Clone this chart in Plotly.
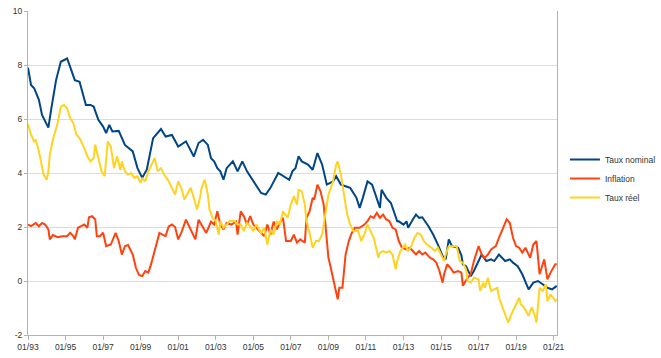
import plotly.graph_objects as go

# ---- data (monthly dates, %)
nominal_dates = ["1993-01","1993-03","1993-05","1993-08","1993-10","1993-12","1994-02","1994-04","1994-07","1994-10",
    "1994-12","1995-02","1995-04","1995-07","1995-10","1996-02","1996-05","1996-07","1996-10","1997-01",
    "1997-03","1997-05","1997-07","1997-11","1998-03","1998-08","1998-11","1999-02","1999-05","1999-09",
    "2000-02","2000-05","2000-09","2001-01","2001-06","2001-11","2002-02","2002-05","2002-08","2002-10",
    "2002-12","2003-02","2003-04","2003-06","2003-08","2003-12","2004-03","2004-06","2004-09","2005-01",
    "2005-06","2005-09","2005-12","2006-05","2006-10","2006-12","2007-02","2007-04","2007-06","2007-08",
    "2007-12","2008-03","2008-06","2008-09","2008-12","2009-04","2009-06","2009-09","2009-12","2010-03",
    "2010-07","2010-09","2010-11","2011-02","2011-05","2011-08","2011-10","2011-11","2012-02","2012-05",
    "2012-07","2012-09","2012-10","2013-01","2013-03","2013-04","2013-07","2013-09","2013-11","2014-01",
    "2014-05","2014-08","2014-11","2015-02","2015-04","2015-06","2015-08","2015-12","2016-02","2016-03",
    "2016-05","2016-08","2016-10","2017-01","2017-03","2017-06","2017-09","2017-11","2018-02","2018-06",
    "2018-09","2018-11","2019-02","2019-05","2019-09","2019-12","2020-03","2020-06","2020-09","2020-12","2021-03"]
nominal_values = [7.90,7.26,7.14,6.71,6.15,5.90,5.68,6.40,7.44,8.12,
    8.18,8.24,7.93,7.44,7.38,6.52,6.52,6.46,5.97,5.72,
    5.48,5.78,5.54,5.56,5.04,4.80,4.18,3.82,4.12,5.29,
    5.63,5.35,5.41,4.98,5.17,4.61,5.11,5.23,5.04,4.55,
    4.43,4.18,4.06,3.75,4.18,4.43,4.06,4.43,4.06,3.69,
    3.26,3.20,3.45,4.00,3.82,3.75,4.06,4.18,4.62,4.43,
    4.31,4.12,4.74,4.31,3.57,3.69,3.88,3.57,3.51,3.45,
    3.08,2.71,3.08,3.69,3.57,3.08,2.71,3.38,3.08,2.89,
    2.58,2.21,2.21,2.09,2.21,1.97,2.28,2.46,2.34,2.36,
    2.03,1.72,1.35,0.92,0.80,1.54,1.29,1.23,0.95,0.62,
    0.55,0.18,0.37,0.74,0.98,0.74,0.80,0.74,0.98,0.74,
    0.80,0.68,0.55,0.25,-0.31,-0.06,0.00,-0.12,-0.25,-0.31,-0.18]

inflation_dates = ["1993-01","1993-03","1993-06","1993-08","1993-10","1993-12","1994-02","1994-03","1994-05","1994-08",
    "1994-11","1995-02","1995-04","1995-06","1995-07","1995-09","1995-11","1996-01","1996-03","1996-04",
    "1996-06","1996-08","1996-09","1996-11","1997-01","1997-03","1997-06","1997-09","1997-11","1998-01",
    "1998-03","1998-05","1998-08","1998-10","1998-12","1999-02","1999-04","1999-06","1999-08","1999-10",
    "2000-01","2000-03","2000-05","2000-07","2000-09","2000-11","2001-01","2001-03","2001-06","2001-08",
    "2001-10","2001-12","2002-02","2002-04","2002-07","2002-10","2002-12","2003-02","2003-04","2003-06",
    "2003-08","2003-11","2004-02","2004-03","2004-05","2004-07","2004-09","2004-11","2005-01","2005-05",
    "2005-08","2005-10","2005-12","2006-02","2006-04","2006-06","2006-08","2006-10","2007-01","2007-03",
    "2007-05","2007-07","2007-10","2007-11","2008-01","2008-03","2008-04","2008-06","2008-08","2008-10",
    "2008-11","2009-01","2009-02","2009-05","2009-07","2009-08","2009-10","2009-12","2010-02","2010-04",
    "2010-06","2010-09","2010-12","2011-02","2011-04","2011-06","2011-08","2011-10","2011-12","2012-02",
    "2012-04","2012-06","2012-08","2012-10","2012-12","2013-03","2013-05","2013-07","2013-09","2013-11",
    "2014-01","2014-03","2014-06","2014-08","2014-10","2014-12","2015-02","2015-03","2015-05","2015-07",
    "2015-09","2015-12","2016-02","2016-03","2016-06","2016-08","2016-10","2017-01","2017-03","2017-05",
    "2017-07","2017-09","2017-12","2018-02","2018-05","2018-07","2018-09","2018-11","2019-01","2019-03",
    "2019-05","2019-07","2019-10","2019-12","2020-02","2020-03","2020-04","2020-06","2020-07","2020-09",
    "2020-11","2021-02","2021-03"]
inflation_values = [2.09,2.03,2.15,2.03,2.15,2.09,1.91,1.54,1.70,1.62,
    1.66,1.66,1.79,1.66,1.54,1.97,2.03,2.09,1.97,2.36,
    2.40,2.28,1.66,1.66,1.79,1.29,1.35,1.78,1.48,0.98,
    1.29,1.33,0.98,0.49,0.22,0.18,0.37,0.31,0.68,1.11,
    1.78,1.72,1.66,2.02,2.09,2.00,1.54,1.78,2.27,2.03,
    1.78,1.54,2.27,2.09,1.78,2.20,2.09,2.58,2.09,1.91,
    2.15,2.09,2.20,1.72,2.58,2.40,2.09,2.40,2.09,1.85,
    1.66,2.09,1.72,2.20,1.91,2.15,2.34,1.48,1.48,1.72,
    1.42,1.54,1.42,2.34,2.58,3.08,3.02,3.57,3.32,2.83,
    2.09,0.86,0.62,-0.12,-0.68,-0.25,-0.25,0.98,1.48,1.78,
    1.97,1.97,2.09,2.22,2.40,2.34,2.52,2.34,2.46,2.28,
    2.22,1.97,1.91,1.48,1.23,1.17,1.23,1.11,0.98,1.11,
    0.98,1.05,0.86,0.80,0.68,0.37,-0.06,0.25,0.62,0.49,
    0.31,0.37,0.31,-0.18,0.12,0.25,0.74,1.29,0.98,0.86,
    0.98,1.17,1.29,1.60,2.03,2.28,2.15,1.60,1.29,1.23,
    1.05,1.23,0.86,1.35,1.48,0.86,0.25,0.62,0.80,0.06,
    0.31,0.62,0.62]

real_dates = ["1993-01","1993-03","1993-05","1993-06","1993-08","1993-10","1993-11","1994-01","1994-02","1994-03",
    "1994-05","1994-08","1994-10","1994-12","1995-02","1995-04","1995-06","1995-08","1995-10","1996-01",
    "1996-03","1996-05","1996-07","1996-08","1996-10","1996-12","1997-02","1997-04","1997-06","1997-08",
    "1997-10","1997-12","1998-01","1998-03","1998-05","1998-07","1998-09","1998-11","1999-01","1999-02",
    "1999-04","1999-06","1999-08","1999-10","1999-12","2000-02","2000-04","2000-07","2000-09","2000-11",
    "2001-01","2001-03","2001-05","2001-07","2001-09","2001-11","2002-01","2002-03","2002-04","2002-06",
    "2002-08","2002-09","2002-11","2003-01","2003-03","2003-04","2003-06","2003-08","2003-10","2004-01",
    "2004-03","2004-05","2004-07","2004-09","2004-11","2005-01","2005-03","2005-06","2005-08","2005-10",
    "2005-12","2006-02","2006-04","2006-06","2006-08","2006-11","2007-01","2007-03","2007-05","2007-06",
    "2007-08","2007-10","2007-11","2008-01","2008-03","2008-05","2008-07","2008-09","2008-11","2009-01",
    "2009-04","2009-06","2009-07","2009-09","2009-11","2010-01","2010-03","2010-05","2010-08","2010-10",
    "2010-12","2011-02","2011-04","2011-06","2011-08","2011-09","2011-10","2011-12","2012-02","2012-04",
    "2012-06","2012-08","2012-09","2012-11","2013-02","2013-04","2013-06","2013-08","2013-10","2013-12",
    "2014-02","2014-04","2014-07","2014-09","2014-11","2015-01","2015-03","2015-04","2015-06","2015-08",
    "2015-11","2016-01","2016-03","2016-05","2016-06","2016-08","2016-10","2017-01","2017-02","2017-04",
    "2017-05","2017-07","2017-09","2017-11","2018-01","2018-02","2018-05","2018-07","2018-08","2018-10",
    "2019-01","2019-03","2019-04","2019-06","2019-09","2019-11","2020-01","2020-02","2020-04","2020-06",
    "2020-08","2020-09","2020-11","2021-02","2021-03"]
real_values = [5.81,5.42,5.17,5.23,4.80,4.31,3.94,3.75,4.06,4.68,
    5.23,5.85,6.46,6.52,6.40,6.03,5.85,5.42,5.29,4.92,
    4.62,4.43,4.55,5.05,4.55,4.06,3.88,5.17,4.98,4.18,
    4.62,4.12,4.43,4.06,3.94,4.00,3.82,3.88,3.63,3.82,
    3.69,4.06,4.31,4.55,4.06,4.18,3.94,3.69,3.45,3.20,
    3.69,3.45,3.02,3.26,3.45,3.08,2.65,3.08,3.45,3.75,
    3.20,2.65,2.34,2.22,1.72,2.22,1.97,2.09,2.22,2.22,
    2.09,2.09,1.85,2.15,2.03,1.85,2.09,1.78,1.97,1.35,
    1.91,1.72,2.22,2.09,2.58,2.34,2.83,3.14,2.83,3.38,
    3.32,2.83,2.22,1.78,1.23,1.48,1.48,1.72,2.46,3.20,
    3.69,4.31,4.43,3.94,3.20,2.46,2.09,1.85,1.85,1.48,
    1.72,2.09,1.85,1.60,1.11,0.86,1.05,1.11,1.05,1.11,
    0.98,0.43,0.74,1.11,1.35,1.11,1.29,1.60,1.78,1.72,
    1.48,1.35,1.23,1.11,1.23,0.98,0.74,0.98,1.29,1.29,
    1.29,0.74,0.68,0.43,0.00,-0.06,0.12,0.06,-0.37,-0.06,
    -0.25,0.12,-0.37,-0.31,-0.25,-0.62,-1.11,-1.42,-1.54,-1.23,
    -0.86,-0.62,-0.86,-0.98,-1.29,-0.98,-1.29,-1.54,-0.25,-0.37,
    -0.12,-0.74,-0.49,-0.74,-0.68]

series_names = ["Taux nominal", "Inflation", "Taux réel"]
series_colors = ["#004586", "#ff420e", "#ffd320"]
y_tick_values = [-2, 0, 2, 4, 6, 8, 10]
y_tick_labels = ["-2", "0", "2", "4", "6", "8", "10"]

FONT = "Liberation Sans, Arial, sans-serif"

fig = go.Figure()
for name, color, xs, ys in zip(series_names, series_colors,
                               [nominal_dates, inflation_dates, real_dates],
                               [nominal_values, inflation_values, real_values]):
    fig.add_trace(go.Scatter(x=xs, y=ys, mode="lines", name=name,
                             line=dict(color=color, width=2)))

fig.update_layout(
    width=661, height=358,
    margin=dict(l=28, r=104, t=11, b=23, autoexpand=False),
    paper_bgcolor="white", plot_bgcolor="white",
    font=dict(family=FONT, size=8.5, color="#333333"),
    showlegend=True,
    legend=dict(x=1.015, xanchor="left", y=0.483, yanchor="middle",
                font=dict(family=FONT, size=8.5, color="#333333"),
                bgcolor="rgba(0,0,0,0)", tracegroupgap=0),
    xaxis=dict(type="date", range=["1993-01-01", "2021-03-06"], automargin=False,
               tick0="1993-01-01", dtick="M24", tickformat="%m/%y",
               showgrid=False, zeroline=False, ticklabeloverflow="allow",
               showline=True, linecolor="#b3b3b3", linewidth=1,
               ticks="outside", ticklen=4, tickcolor="#b3b3b3",
               tickfont=dict(family=FONT, size=8.5, color="#333333")),
    yaxis=dict(range=[-2, 10], tickvals=y_tick_values, ticktext=y_tick_labels, automargin=False,
               showgrid=True, gridcolor="#dcdcdc", gridwidth=1, zeroline=False,
               ticklabeloverflow="allow",
               showline=True, linecolor="#b3b3b3", linewidth=1, mirror=True,
               ticks="outside", ticklen=3, tickcolor="#b3b3b3",
               tickfont=dict(family=FONT, size=8.5, color="#333333")),
)

# remove the default 8px page margin so the 661x358 figure fills the window exactly
fig.write_html("out.html", config={"displayModeBar": False},
               post_script="document.body.style.margin='0';")
